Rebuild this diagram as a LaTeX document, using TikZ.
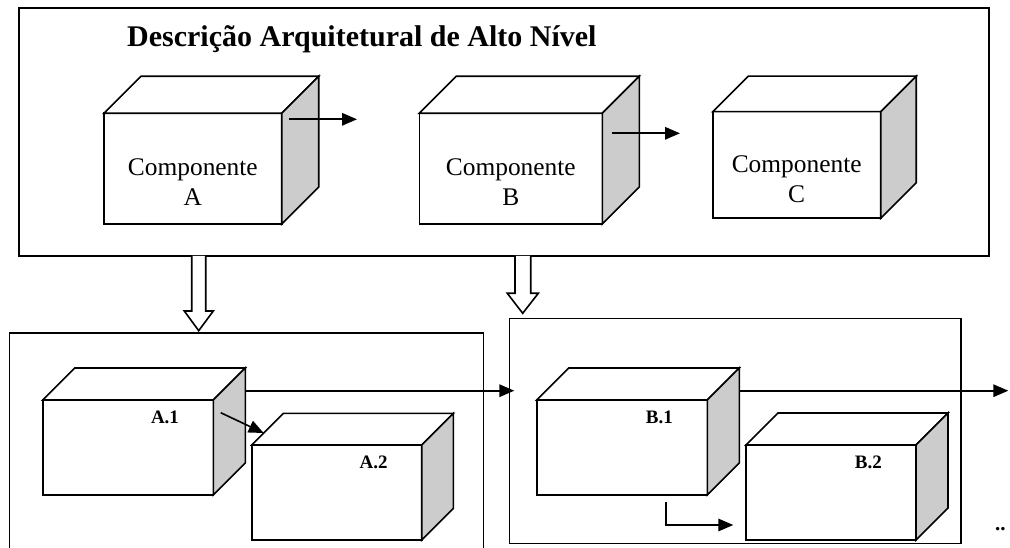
\documentclass[tikz,border=0pt]{standalone}
\usepackage{fontspec}
\setmainfont{Liberation Serif}
\usetikzlibrary{arrows.meta,calc}
\definecolor{sidegray}{RGB}{204,204,204}
\tikzset{
  outline/.style={draw=black, line width=1.6pt, line join=miter},
  face/.style={outline, fill=white, rectangle, inner sep=0pt, outer sep=0pt, anchor=north west},
  panel/.style={draw=black, line width=1.6pt, rectangle, inner sep=0pt, outer sep=0pt, anchor=north west},
  flow/.style={draw=black, line width=1.6pt, -{Triangle[length=15pt,width=12.5pt]}},
  hollow/.style={draw=black, line width=1.6pt, fill=white, line join=miter},
  compname/.style={font=\fontsize{25.4}{30}\selectfont, align=center, inner sep=0pt},
  partname/.style={font=\fontsize{19}{21}\selectfont\bfseries, inner sep=0pt, anchor=base},
}
% #1 name, #2,#3 top-left corner of the front face, #4 width, #5 height, #6 depth
\newcommand{\cubebox}[6]{%
  \node[face, minimum width=#4, minimum height=#5] (#1) at (#2,#3) {};
  \draw[outline, fill=white] (#1.north west) -- ++(#6,-#6) -- ++(#4,0) -- (#1.north east) -- cycle;
  \draw[outline, fill=sidegray] (#1.north east) -- ++(#6,-#6) -- ++(0,#5) -- (#1.south east) -- cycle;
}
\begin{document}
\begin{tikzpicture}[x=1pt,y=-1pt]
\useasboundingbox (0,0) rectangle (1010,548);

% high-level architecture
\node[panel, minimum width=970, minimum height=248] (top) at (19,8) {};
\node[font=\fontsize{30}{34}\selectfont\bfseries, anchor=base west, inner sep=0pt]
  (title) at (127,47) {Descrição Arquitetural de Alto Nível};

\cubebox{A}{104}{113.3}{177.7}{110.7}{37}
\cubebox{B}{419.3}{113.3}{183}{110.7}{37}
\cubebox{C}{712.7}{111.7}{168}{106.6}{35.5}
\node[compname] (Atext) at ($(A.center)+(0,13)$) {Componente\\A};
\node[compname] (Btext) at ($(B.center)+(0,13)$) {Componente\\B};
\node[compname] (Ctext) at ($(C.center)+(0,14.5)$) {Componente\\C};

\coordinate (Aout) at ($(A.north east)+(7.3,6)$);
\coordinate (Aend) at ($(Aout)+(68,0)$);
\coordinate (Bout) at ($(B.north east)+(10,20)$);
\coordinate (Bend) at ($(Bout)+(67.7,0)$);
\draw[flow] (Aout) -- (Aend);
\draw[flow] (Bout) -- (Bend);

% refinement arrows
\draw[hollow] (191.7,256) -- (191.7,311) -- (184.3,311) -- (198.7,330.7)
  -- (213.3,311) -- (205.7,311) -- (205.7,256);
\draw[hollow] (515,256) -- (515,293.3) -- (507.3,293.3) -- (522.7,313.3)
  -- (538.3,293.3) -- (530.7,293.3) -- (530.7,256);

% refinement of component A
\draw[outline] (9.3,550) -- (9.3,332.7) -- (483.3,332.7) -- (483.3,550);
\cubebox{A1}{42.7}{400}{170.6}{95}{32}
\cubebox{A2}{251.7}{445}{170}{95}{31.7}
\node[partname] (A1text) at ($(A1.north)+(37,23.3)$) {A.1};
\node[partname] (A2text) at ($(A2.north)+(37,23.3)$) {A.2};

% refinement of component B
\node[panel, minimum width=451.7, minimum height=225] (Bsub) at (509.3,318.3) {};
\cubebox{B1}{536.7}{400}{170.6}{95}{32}
\cubebox{B2}{746}{445}{170}{95}{32}
\node[partname] (B1text) at ($(B1.north)+(37.3,23.3)$) {B.1};
\node[partname] (B2text) at ($(B2.north)+(37.3,23.3)$) {B.2};

% connectors between the parts
\coordinate (A1in) at ($(A1.north east)+(7.4,12.7)$);
\coordinate (A2hit) at ($(A2.north west)+(12,-12)$);
\draw[flow] (A1in) -- (A2hit);
\coordinate (A1out) at ($(A1.north east)+(31.7,-9.3)$);
\coordinate (Bsubin) at ($(Bsub.west |- A1out)+(5,0)$);
\draw[flow] (A1out) -- (Bsubin);
\coordinate (B1out) at ($(B1.north east)+(31.7,-9.3)$);
\coordinate (B1far) at (1008.3,390.7);
\draw[flow] (B1out) -- (B1far);
\coordinate (B1low) at ($(B1.south west)+(129,7.3)$);
\coordinate (B2near) at (733.3,525);
\draw[flow] (B1low) |- (B2near);

\node[font=\fontsize{21}{22}\selectfont\bfseries, anchor=base west, inner sep=0pt]
  (more) at (995,530) {..};
\end{tikzpicture}
\end{document}
